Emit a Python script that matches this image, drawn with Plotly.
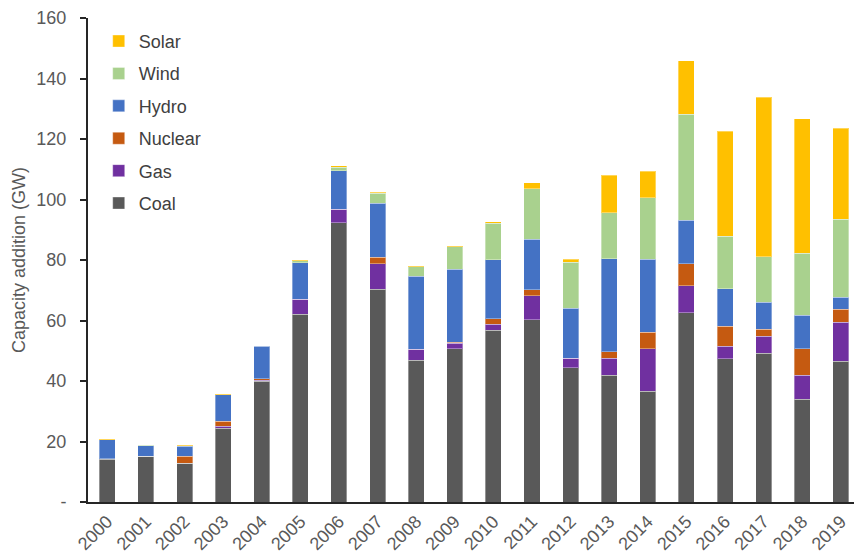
import plotly.graph_objects as go

years = [str(y) for y in range(2000, 2020)]

coal = [14.1, 15.2, 12.8, 24.3, 39.9, 62.1, 92.3, 70.3, 46.8, 50.7,
        56.8, 60.3, 44.4, 41.9, 36.6, 62.6, 47.4, 49.2, 33.9, 46.5]
gas = [0.2, 0.0, 0.0, 0.8, 0.4, 4.9, 4.5, 8.5, 3.7, 1.7,
       1.9, 7.9, 3.1, 5.6, 14.1, 8.9, 4.1, 5.6, 8.0, 12.9]
nuclear = [0.0, 0.0, 2.3, 1.6, 0.5, 0.0, 0.0, 2.1, 0.0, 0.4,
           1.8, 1.9, 0.0, 2.1, 5.4, 7.3, 6.6, 2.3, 8.8, 4.3]
hydro = [6.2, 3.4, 3.3, 8.7, 10.7, 12.1, 12.7, 17.9, 24.2, 24.2,
         19.6, 16.8, 16.5, 30.8, 24.2, 14.4, 12.4, 8.9, 11.1, 4.0]
wind = [0.1, 0.1, 0.2, 0.1, 0.1, 0.6, 1.2, 3.2, 3.1, 7.3,
        12.1, 16.7, 15.2, 15.2, 20.3, 35.0, 17.4, 15.1, 20.4, 25.8]
solar = [0.2, 0.2, 0.2, 0.2, 0.1, 0.2, 0.5, 0.4, 0.2, 0.3,
         0.4, 1.9, 1.1, 12.5, 8.8, 17.6, 34.7, 52.7, 44.5, 30.0]

y_tick_vals = [0, 20, 40, 60, 80, 100, 120, 140, 160]
y_tick_text = ["-", "20", "40", "60", "80", "100", "120", "140", "160"]

# stacked bottom to top; legend lists them top to bottom
series = [
    ("Coal", coal, "#595959"),
    ("Gas", gas, "#7030A0"),
    ("Nuclear", nuclear, "#C55A11"),
    ("Hydro", hydro, "#4472C4"),
    ("Wind", wind, "#A9D18E"),
    ("Solar", solar, "#FFC000"),
]

fig = go.Figure()
for i, (name, vals, color) in enumerate(series):
    fig.add_trace(go.Bar(
        x=years, y=vals, name=name, legendgroup=name,
        legendrank=len(series) - i,
        marker=dict(color=color, line=dict(color="rgba(255,255,255,0.35)", width=1)),
    ))

font = "Liberation Sans, Arial, sans-serif"

fig.update_layout(
    width=854, height=555,
    margin=dict(l=88, r=0, t=18, b=53),
    paper_bgcolor="white", plot_bgcolor="white",
    barmode="stack", bargap=0.585,
    font=dict(family=font, size=18, color="#595959"),
    legend=dict(
        x=0.014, y=0.99, xanchor="left", yanchor="top",
        traceorder="grouped", tracegroupgap=6,
        font=dict(family=font, size=18, color="#404040"),
        bgcolor="rgba(0,0,0,0)",
    ),
    xaxis=dict(
        type="category", range=[-0.5, 19.34], automargin=False,
        tickangle=-45, showgrid=False, ticks="",
        showline=True, linecolor="#262626", linewidth=2,
        tickfont=dict(family=font, size=18, color="#595959"),
    ),
    yaxis=dict(
        range=[0, 160], tickvals=y_tick_vals, ticktext=y_tick_text,
        automargin=False,
        showgrid=False, zeroline=False,
        showline=True, linecolor="#262626", linewidth=2,
        ticks="outside", ticklen=6, tickcolor="#262626", tickwidth=1.5,
        ticklabelstandoff=10,
        tickfont=dict(family=font, size=18, color="#595959"),
        title=dict(text="Capacity addition (GW)", standoff=6,
                   font=dict(family=font, size=18, color="#595959")),
    ),
)

fig.write_html("out.html")
